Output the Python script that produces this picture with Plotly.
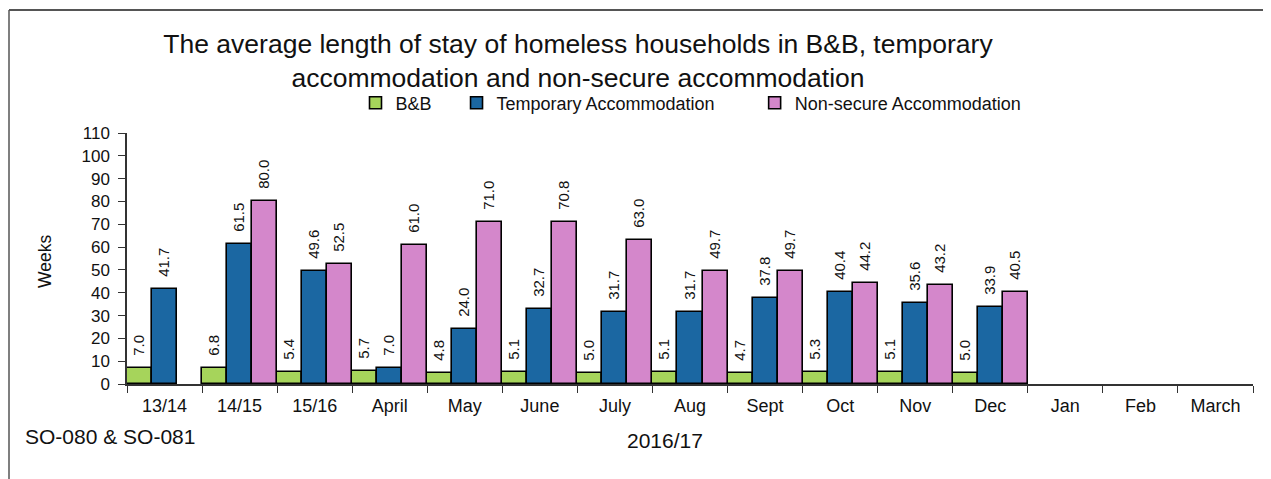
import plotly.graph_objects as go

categories = ["13/14", "14/15", "15/16", "April", "May", "June", "July", "Aug",
              "Sept", "Oct", "Nov", "Dec", "Jan", "Feb", "March"]
bnb = [7.0, 6.8, 5.4, 5.7, 4.8, 5.1, 5.0, 5.1, 4.7, 5.3, 5.1, 5.0, None, None, None]
temporary = [41.7, 61.5, 49.6, 7.0, 24.0, 32.7, 31.7, 31.7, 37.8, 40.4, 35.6, 33.9, None, None, None]
non_secure = [None, 80.0, 52.5, 61.0, 71.0, 70.8, 63.0, 49.7, 49.7, 44.2, 43.2, 40.5, None, None, None]

NB = "\u00a0"
series = [
    ("B&B" + NB * 4, bnb, "#A6D45B"),
    ("Temporary Accommodation" + NB * 7, temporary, "#1B67A2"),
    ("Non-secure Accommodation", non_secure, "#D487CB"),
]

# page offset (browser body margin) and plot-area geometry in page pixels
OFF = 8
W, H = 1271 - OFF, 479 - OFF
X0, X1, Y0, Y1 = 127, 1253, 384, 133


def px(x):
    return (x - X0) / (X1 - X0)


def py(y):
    return (Y0 - y) / (Y0 - Y1)


fig = go.Figure()
for name, vals, col in series:
    fig.add_trace(go.Bar(
        x=categories, y=vals, name=name,
        marker=dict(color=col, line=dict(color="black", width=1.6)),
        text=[(NB * 2 + f"{v:.1f}") if v is not None else "" for v in vals],
        textposition="outside", textangle=-90,
        textfont=dict(family="Arial, Liberation Sans", size=15, color="#111"),
        cliponaxis=False,
    ))

fig.update_layout(
    width=W, height=H,
    barmode="group", bargap=0.0, bargroupgap=0.0,
    paper_bgcolor="white", plot_bgcolor="white",
    margin=dict(l=X0 - OFF, r=W - (X1 - OFF), t=Y1 - OFF, b=H - (Y0 - OFF)),
    font=dict(family="Arial, Liberation Sans", color="#111"),
    title=dict(
        text="The average length of stay of homeless households in B&B, temporary<br>accommodation and non-secure accommodation",
        x=(578 - OFF) / W, xanchor="center", y=1 - (53 - OFF) / H, yanchor="middle",
        font=dict(size=26.5, color="#111"),
    ),
    legend=dict(
        orientation="h", x=px(691), xanchor="center", y=py(103), yanchor="middle",
        font=dict(size=18), itemwidth=30, traceorder="normal",
        bgcolor="rgba(0,0,0,0)",
    ),
    uniformtext=dict(minsize=15, mode="show"),
)
fig.update_xaxes(
    type="category", tickson="boundaries", ticks="outside", ticklen=7,
    tickcolor="#333", showline=True, linecolor="#333", linewidth=1.5,
    tickfont=dict(size=18), showgrid=False, automargin=False,
    ticklabelstandoff=5,
)
fig.update_yaxes(
    range=[0, 110], dtick=10, ticks="outside", ticklen=7, tickcolor="#333",
    showline=True, linecolor="#333", linewidth=1.5, showgrid=False,
    tickfont=dict(size=17), zeroline=False, automargin=False,
    ticklabelstandoff=5,
)
fig.add_annotation(
    text="Weeks", xref="paper", yref="paper", x=px(45), y=py(262),
    xanchor="center", yanchor="middle", textangle=-90,
    showarrow=False, font=dict(size=17.5, color="#111"),
)
fig.add_annotation(
    text="2016/17", xref="paper", yref="paper", x=px(665), y=py(440),
    xanchor="center", yanchor="middle",
    showarrow=False, font=dict(size=21, color="#111"),
)
fig.add_annotation(
    text="SO-080 & SO-081", xref="paper", yref="paper",
    x=px(23), xanchor="left", y=py(436), yanchor="middle",
    showarrow=False, font=dict(size=21, color="#111"),
)
# page frame (top and left edges of the scanned box)
fig.add_shape(type="line", xref="paper", yref="paper",
              x0=px(9), x1=px(1275), y0=py(10), y1=py(10),
              line=dict(color="#555", width=2))
fig.add_shape(type="line", xref="paper", yref="paper",
              x0=px(9), x1=px(9), y0=py(10), y1=py(490),
              line=dict(color="#555", width=1.5))

fig.write_html("out.html")
